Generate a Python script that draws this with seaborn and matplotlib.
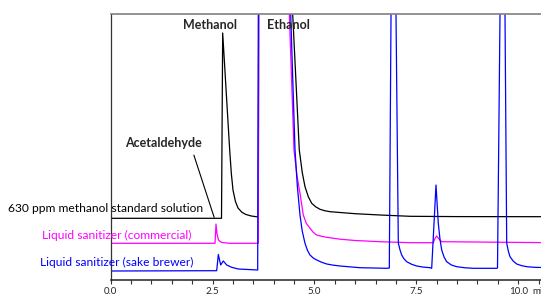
import matplotlib
matplotlib.use("Agg")
import matplotlib.pyplot as plt
import pandas as pd
import seaborn as sns
from matplotlib.ticker import MultipleLocator

# retention time (min) / detector response
std_time = [0.0, 2.719, 2.748, 2.920, 2.960, 3.001, 3.060, 3.124, 3.220, 3.320,
            3.450, 3.622, 3.639, 4.277, 4.466, 4.628, 4.700, 4.768, 4.850, 4.933,
            5.030, 5.136, 5.250, 5.382, 5.627, 6.000, 6.609, 7.345, 8.500, 10.8]
std_signal = [0.0, 0.0, 185.3, 68.3, 45.0, 28.3, 17.0, 10.3, 6.0, 3.8,
              2.3, 1.3, 368.0, 368.0, 204.3, 68.3, 46.0, 31.6, 21.5, 15.0,
              11.5, 9.0, 7.6, 6.6, 5.8, 4.6, 3.3, 2.0, 1.7, 1.6]

com_time = [0.0, 2.560, 2.584, 2.610, 2.645, 2.690, 2.731, 2.928, 3.622, 3.639,
            4.243, 4.383, 4.498, 4.570, 4.645, 4.726, 4.800, 4.891, 4.970, 5.055,
            5.180, 5.301, 5.627, 6.000, 6.609, 7.345, 7.917, 7.960, 8.000, 8.050,
            8.123, 10.8]
com_signal = [0.0, 0.0, 19.3, 9.0, 3.3, 1.6, 0.8, 0.0, 0.0, 393.0,
              393.0, 229.3, 93.3, 68.0, 50.0, 28.3, 20.0, 15.0, 11.0, 8.3,
              7.0, 6.0, 4.1, 2.8, 1.6, 0.6, 0.6, 5.0, 7.3, 4.5,
              1.6, 0.6]

brew_time = [0.0, 2.601, 2.641, 2.699, 2.763, 2.847, 2.969, 3.131, 3.607, 3.632,
             4.290, 4.417, 4.523, 4.580, 4.645, 4.700, 4.768, 4.830, 4.891, 4.970,
             5.055, 5.180, 5.301, 5.450, 5.627, 6.118, 6.773, 6.837, 6.906, 6.962,
             7.001, 7.058, 7.100, 7.141, 7.200, 7.264, 7.380, 7.509, 7.650, 7.836,
             7.877, 7.983, 8.039, 8.080, 8.123, 8.180, 8.245, 8.360, 8.491, 8.700,
             8.898, 9.472, 9.492, 9.593, 9.647, 9.676, 9.718, 9.760, 9.799, 9.880,
             9.963, 10.080, 10.209, 10.400, 10.8]
brew_signal = [0.0, 0.3, 16.5, 6.0, 10.0, 6.0, 3.7, 2.0, 1.0, 420.0,
               420.0, 257.0, 121.0, 85.0, 56.0, 40.0, 27.7, 20.5, 16.0, 13.0,
               11.0, 8.7, 7.0, 5.9, 5.0, 3.3, 2.7, 3.0, 420.0, 420.0,
               257.0, 28.0, 21.0, 16.0, 12.0, 9.3, 6.8, 5.0, 4.0, 3.3,
               2.7, 86.0, 47.7, 32.0, 21.0, 14.0, 9.3, 6.0, 4.3, 3.2,
               2.7, 2.7, 3.0, 420.0, 420.0, 257.0, 27.7, 19.5, 14.3, 9.8,
               7.0, 5.4, 4.3, 3.7, 3.3]

samples = ["630 ppm methanol standard solution",
           "Liquid sanitizer (commercial)",
           "Liquid sanitizer (sake brewer)"]
colors = ["black", "#ff00ff", "#0000ff"]
offsets = [61.7, 36.7, 9.0]

frames = []
for name, t, s, off in zip(samples, [std_time, com_time, brew_time],
                           [std_signal, com_signal, brew_signal], offsets):
    frames.append(pd.DataFrame({"time": t, "response": [v + off for v in s], "sample": name}))
df = pd.concat(frames, ignore_index=True)

sns.set_style("ticks")
plt.rcParams["font.family"] = ["Lato", "DejaVu Sans"]

fig = plt.figure(figsize=(5.41, 2.96), dpi=100)
ax = fig.add_axes([110.7 / 541, 16 / 296, 448.25 / 541, 266 / 296])

sns.lineplot(data=df, x="time", y="response", hue="sample", hue_order=samples,
             palette=colors, estimator=None, sort=False, legend=False, lw=0.9, ax=ax)

ax.set_xlim(0, 11)
ax.set_ylim(0, 266)
ax.set_xlabel("")
ax.set_ylabel("")
ax.set_yticks([])
ax.xaxis.set_major_locator(MultipleLocator(2.5))
ax.xaxis.set_minor_locator(MultipleLocator(0.5))
ax.xaxis.set_major_formatter(matplotlib.ticker.FormatStrFormatter("%.1f"))
ax.tick_params(axis="x", which="both", direction="out", length=3, width=0.8,
               color="#333333", labelsize=7, pad=2)
ax.spines["right"].set_visible(False)
ax.spines["top"].set_color("#808080")
ax.spines["top"].set_linewidth(1.2)
ax.spines["left"].set_color("#333333")
ax.spines["left"].set_linewidth(0.9)
ax.spines["bottom"].set_color("#222222")
ax.spines["bottom"].set_linewidth(1.1)

# axis unit, cut by the right edge as in the original
ax.text(10.34, -0.044, "min", transform=ax.get_xaxis_transform(), ha="left",
        va="center", fontsize=7)

# peak names
ax.text(2.437, 255, "Methanol", ha="center", va="center", fontsize=9, fontweight="bold")
ax.text(4.351, 255, "Ethanol", ha="center", va="center", fontsize=9, fontweight="bold")
ax.text(1.283, 137, "Acetaldehyde", ha="center", va="center", fontsize=9, fontweight="bold")
ax.annotate("", xy=(2.560, 60), xytext=(2.020, 127.5),
            arrowprops=dict(arrowstyle="-", color="black", lw=0.8))

# trace labels
label_pos = [(-0.120, 71.7), (0.147, 45.0), (0.142, 17.7)]
for name, c, (x, y) in zip(samples, colors, label_pos):
    ax.text(x, y, name, color=c, ha="center", va="center", fontsize=8.65, clip_on=False)

fig.savefig("out.png", dpi=100)
